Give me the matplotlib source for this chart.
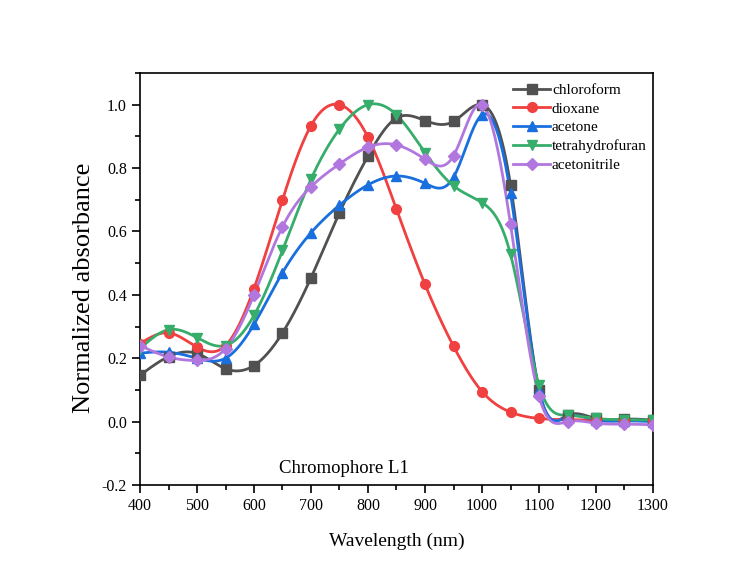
import numpy as np
import matplotlib
matplotlib.use("Agg")
import matplotlib.pyplot as plt
from matplotlib.ticker import MultipleLocator

wavelength = [400, 450, 500, 550, 600, 650, 700, 750, 800, 850, 900, 950, 1000, 1050, 1100, 1150, 1200, 1250, 1300]
chloroform = [0.146, 0.205, 0.215, 0.167, 0.177, 0.280, 0.454, 0.659, 0.838, 0.958, 0.950, 0.947, 1.000, 0.747, 0.100, 0.020, 0.010, 0.008, 0.005]
dioxane = [0.246, 0.280, 0.235, 0.240, 0.420, 0.700, 0.934, 1.000, 0.897, 0.670, 0.433, 0.238, 0.095, 0.030, 0.010, 0.006, 0.005, 0.004, 0.004]
acetone = [0.216, 0.219, 0.200, 0.200, 0.307, 0.470, 0.596, 0.683, 0.747, 0.775, 0.752, 0.771, 0.968, 0.720, 0.100, 0.015, 0.005, 0.002, 0.000]
tetrahydrofuran = [0.230, 0.290, 0.265, 0.240, 0.335, 0.540, 0.765, 0.923, 1.000, 0.968, 0.849, 0.744, 0.691, 0.528, 0.115, 0.020, 0.010, 0.006, 0.005]
acetonitrile = [0.240, 0.204, 0.193, 0.230, 0.400, 0.615, 0.741, 0.813, 0.866, 0.873, 0.828, 0.839, 1.000, 0.623, 0.080, 0.000, -0.005, -0.008, -0.010]

series_names = ["chloroform", "dioxane", "acetone", "tetrahydrofuran", "acetonitrile"]
series_values = [chloroform, dioxane, acetone, tetrahydrofuran, acetonitrile]
colors = ["#515151", "#F14040", "#1A6FDF", "#37AD6B", "#B177DE"]
markers = ["s", "o", "^", "v", "D"]
msizes = [6.5, 7, 7.5, 7.5, 6]


def natural_spline(x, y, n=600):
    x = np.asarray(x, float)
    y = np.asarray(y, float)
    m = len(x)
    h = np.diff(x)
    A = np.zeros((m, m))
    b = np.zeros(m)
    A[0, 0] = 1
    A[-1, -1] = 1
    for i in range(1, m - 1):
        A[i, i - 1] = h[i - 1]
        A[i, i] = 2 * (h[i - 1] + h[i])
        A[i, i + 1] = h[i]
        b[i] = 3 * ((y[i + 1] - y[i]) / h[i] - (y[i] - y[i - 1]) / h[i - 1])
    c = np.linalg.solve(A, b)
    bb = (y[1:] - y[:-1]) / h - h * (2 * c[:-1] + c[1:]) / 3
    d = (c[1:] - c[:-1]) / (3 * h)
    xs = np.linspace(x[0], x[-1], n)
    idx = np.clip(np.searchsorted(x, xs) - 1, 0, m - 2)
    dx = xs - x[idx]
    ys = y[idx] + bb[idx] * dx + c[idx] * dx ** 2 + d[idx] * dx ** 3
    return xs, ys


plt.rcParams['font.family'] = ['Liberation Serif', 'DejaVu Serif']

fig = plt.figure(figsize=(7.43, 5.69), dpi=100)
ax = fig.add_axes([140 / 743, 1 - 485 / 569, (653 - 140) / 743, (485 - 73) / 569])

for name, vals, col, mk, ms in zip(series_names, series_values, colors, markers, msizes):
    xs, ys = natural_spline(wavelength, vals)
    ax.plot(xs, ys, color=col, lw=2.0, zorder=2)
    ax.plot(wavelength, vals, linestyle="none", marker=mk, color=col, ms=ms, zorder=3)
    ax.plot([], [], color=col, lw=2.0, marker=mk, ms=ms, label=name)

ax.set_xlim(400, 1300)
ax.set_ylim(-0.2, 1.1)
ax.xaxis.set_major_locator(MultipleLocator(100))
ax.xaxis.set_minor_locator(MultipleLocator(50))
ax.yaxis.set_major_locator(MultipleLocator(0.2))
ax.yaxis.set_minor_locator(MultipleLocator(0.1))
ax.yaxis.set_major_formatter(matplotlib.ticker.FormatStrFormatter('%.1f'))
ax.tick_params(which='major', direction='out', length=6, width=1.2, labelsize=11.5, top=False, right=False)
ax.tick_params(which='minor', direction='out', length=3.5, width=1.2, top=False, right=False)
for s in ax.spines.values():
    s.set_linewidth(1.2)

ax.set_xlabel("Wavelength (nm)", fontsize=14, labelpad=13)
ax.set_ylabel("Normalized absorbance", fontsize=19)
ax.yaxis.set_label_coords(-0.088, 0.478)

ax.text(758, -0.148, "Chromophore L1", fontsize=13.5, ha='center', va='center')

leg = ax.legend(loc='upper left', bbox_to_anchor=(0.716, 0.99), frameon=False, fontsize=11,
                handlelength=2.4, handletextpad=0.12, labelspacing=0.33, borderaxespad=0)

fig.savefig("out.png", dpi=100)
